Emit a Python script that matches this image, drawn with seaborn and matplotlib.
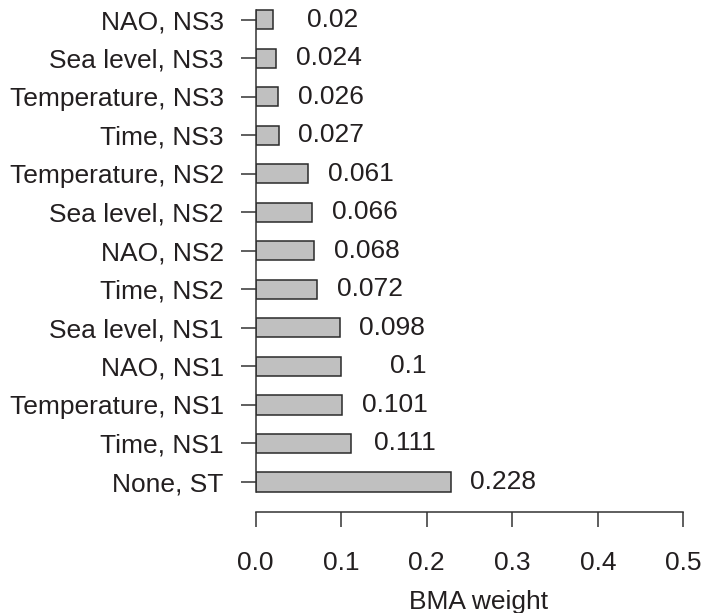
import matplotlib
matplotlib.use("Agg")
import matplotlib.pyplot as plt
import seaborn as sns
import pandas as pd

categories = ["NAO, NS3", "Sea level, NS3", "Temperature, NS3", "Time, NS3",
              "Temperature, NS2", "Sea level, NS2", "NAO, NS2", "Time, NS2",
              "Sea level, NS1", "NAO, NS1", "Temperature, NS1", "Time, NS1",
              "None, ST"]
weights = [0.02, 0.024, 0.026, 0.027, 0.061, 0.066, 0.068, 0.072,
           0.098, 0.1, 0.101, 0.111, 0.228]
xticks = [0.0, 0.1, 0.2, 0.3, 0.4, 0.5]
xticklabels = ["0.0", "0.1", "0.2", "0.3", "0.4", "0.5"]

sns.set_style("ticks")
plt.rcParams["font.family"] = ["Liberation Sans", "DejaVu Sans"]

df = pd.DataFrame({"model": categories, "weight": weights})

fig = plt.figure(figsize=(7.04, 6.13), dpi=100)
ax = fig.add_axes([0.3632, 0.1653, 0.6318, 0.8215])

ink = "#231f20"
fs = 19
sns.barplot(data=df, x="weight", y="model", orient="h", color="#c0c0c0",
            saturation=1, edgecolor="#2a2a2a", linewidth=1.1, width=0.5, ax=ax)

for i, v in enumerate(weights):
    ax.text(v + 0.1, i, f"{v:g}", ha="right", va="center", fontsize=fs, color=ink)

ax.set_xlim(0, 0.52)
ax.set_ylim(12.771, -0.3)
ax.set_xticks(xticks)
ax.set_xticklabels(xticklabels)
ax.set_xlabel("BMA weight", fontsize=fs, color=ink, labelpad=11)
ax.set_ylabel("")

for s in ["top", "right"]:
    ax.spines[s].set_visible(False)
ax.spines["left"].set_bounds(-0.25, 12.25)
ax.spines["bottom"].set_bounds(0, 0.5)
for s in ["left", "bottom"]:
    ax.spines[s].set_color("#333333")
    ax.spines[s].set_linewidth(1.1)

ax.tick_params(axis="both", direction="out", length=11, width=1.1,
               color="#333333", labelsize=fs, labelcolor=ink)
ax.tick_params(axis="y", pad=12)
ax.tick_params(axis="x", pad=17)

fig.savefig("out.png", dpi=100)
